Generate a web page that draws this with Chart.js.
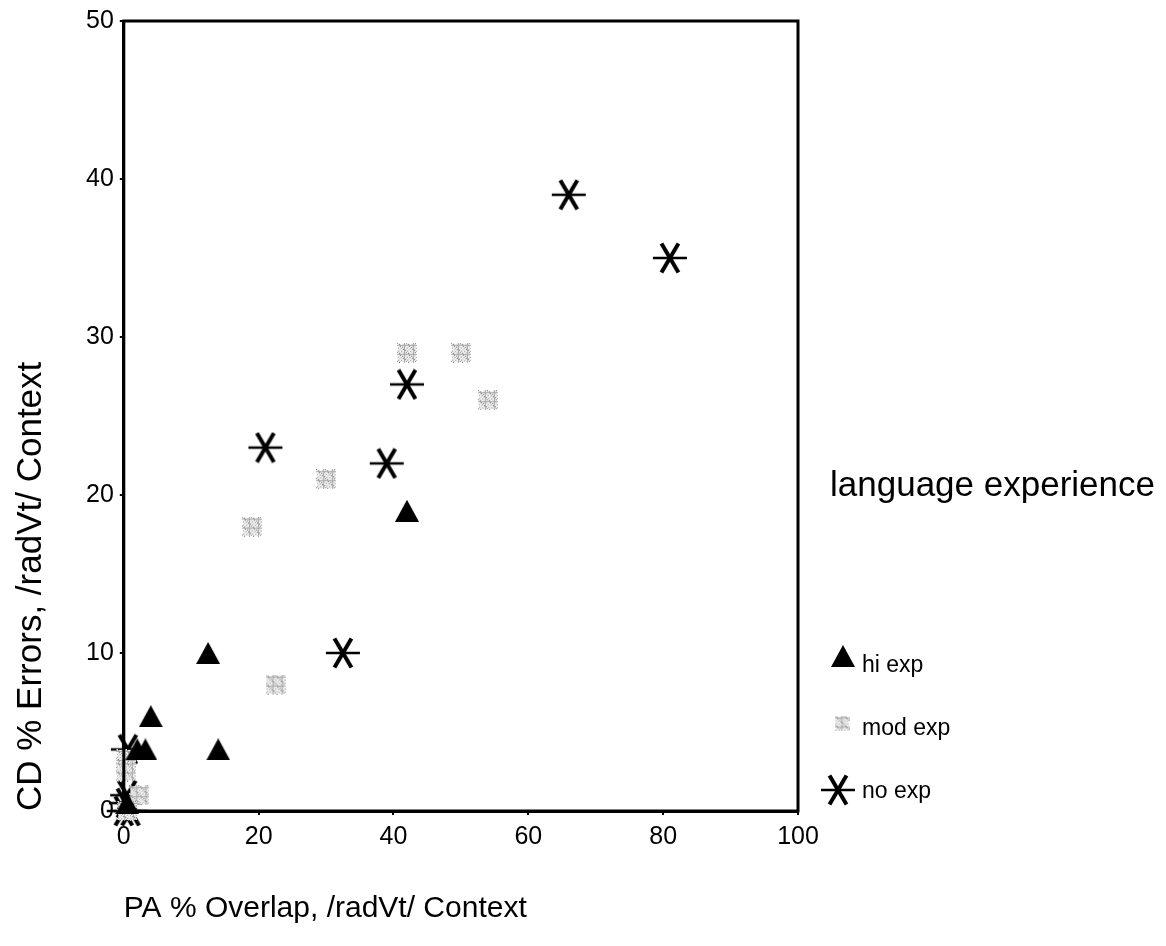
<!DOCTYPE html>
<html>
<head>
<meta charset="utf-8">
<script src="https://cdn.jsdelivr.net/npm/chart.js@4.4.1/dist/chart.umd.min.js"></script>
<style>
  html, body { margin: 0; padding: 0; background: #ffffff; }
  #wrap { width: 1166px; height: 946px; }
</style>
</head>
<body>
<div id="wrap"><canvas id="c" width="1166" height="946"></canvas></div>
<script>
// ---- data ----
const seriesNames = ["hi exp", "mod exp", "no exp"];
const hiX  = [42, 12.5, 4, 14, 2, 3.2, 0.5];
const hiY  = [19, 10, 6, 3.9, 3.9, 3.9, 0.5];
const modX = [42, 50, 54, 30, 19, 22.5, 0.3, 0.3, 2.3, 0.5];
const modY = [29, 29, 26, 21, 18, 8, 3.3, 2.5, 1, 0];
const noX  = [66, 81, 42, 21, 39, 32.5, 0.6, 0, 1, 0.5, 0.3];
const noY  = [39, 35, 27, 23, 22, 10, 3.9, 0, 0, 1, 0.5];
const xTicks = [0, 20, 40, 60, 80, 100];
const yTicks = [0, 10, 20, 30, 40, 50];
const xTitle = "PA % Overlap, /radVt/ Context";
const yTitle = "CD % Errors, /radVt/ Context";
const legendTitle = "language experience";

function pts(xs, ys) { return xs.map((x, i) => ({ x: x, y: ys[i] })); }

// ---- marker images ----
function triangleImg() {
  const c = document.createElement('canvas'); c.width = 24; c.height = 22;
  const g = c.getContext('2d');
  g.fillStyle = '#000';
  g.beginPath(); g.moveTo(12, 0); g.lineTo(24, 22); g.lineTo(0, 22); g.closePath(); g.fill();
  return c;
}
function speckleImg(n) {
  const c = document.createElement('canvas'); c.width = n; c.height = n;
  const g = c.getContext('2d');
  g.fillStyle = '#e2e2e2'; g.fillRect(1, 1, n - 2, n - 2);
  for (let i = 0; i < n; i++) {
    for (let j = 0; j < n; j++) {
      const k = (i * 7 + j * 11 + i * j) % 9;
      if (k === 0) { g.fillStyle = '#858585'; g.fillRect(i, j, 1, 1); }
      else if (k === 4) { g.fillStyle = '#aaaaaa'; g.fillRect(i, j, 1, 1); }
      else if (k === 7) { g.fillStyle = '#ffffff'; g.fillRect(i, j, 1, 1); }
    }
  }
  return c;
}
function asteriskImg() {
  const c = document.createElement('canvas'); c.width = 36; c.height = 32;
  const g = c.getContext('2d');
  g.strokeStyle = '#000'; g.lineCap = 'butt';
  g.lineWidth = 2.6;
  g.beginPath(); g.moveTo(1, 16); g.lineTo(35, 16); g.stroke();
  g.lineWidth = 4;
  g.beginPath(); g.moveTo(9.5, 1.5); g.lineTo(26.5, 30.5); g.stroke();
  g.beginPath(); g.moveTo(26.5, 1.5); g.lineTo(9.5, 30.5); g.stroke();
  return c;
}
const triImg = triangleImg(), modImg = speckleImg(20), modLegImg = speckleImg(15), astImg = asteriskImg();

const FONT = "'Liberation Sans', Arial, Helvetica, sans-serif";

const boxPlugin = {
  id: 'box',
  afterDatasetsDraw(chart) {
    const a = chart.chartArea, g = chart.ctx;
    g.save();
    g.strokeStyle = '#000'; g.lineWidth = 3;
    g.strokeRect(a.left, a.top, a.right - a.left, a.bottom - a.top);
    g.restore();
  }
};

// legend drawn to the right of the plot, using the datasets' labels and point styles
const legendPlugin = {
  id: 'sideLegend',
  afterDraw(chart) {
    const g = chart.ctx, a = chart.chartArea;
    const x0 = a.right + 32;
    g.save();
    g.fillStyle = '#000';
    g.textBaseline = 'middle';
    g.textAlign = 'left';
    g.font = "35px " + FONT;
    g.fillText(legendTitle, x0, a.bottom - 325);
    const imgs = [triImg, modLegImg, astImg];
    const markerDx = [13, 12, 8];
    const markerDy = [-10, -6, -2];
    g.font = "23px " + FONT;
    chart.data.datasets.forEach((ds, i) => {
      const yc = a.bottom - 145 + i * 63;
      const im = imgs[i];
      g.drawImage(im, x0 + markerDx[i] - im.width / 2, yc + markerDy[i] - im.height / 2);
      g.fillText(ds.label, x0 + 32, yc);
    });
    g.restore();
  }
};

new Chart(document.getElementById('c'), {
  type: 'scatter',
  data: {
    datasets: [
      { label: seriesNames[0], data: pts(hiX, hiY), pointStyle: triImg, clip: false },
      { label: seriesNames[1], data: pts(modX, modY), pointStyle: modImg, clip: false },
      { label: seriesNames[2], data: pts(noX, noY), pointStyle: astImg, clip: false }
    ]
  },
  options: {
    responsive: false,
    animation: false,
    layout: { padding: { left: 10, top: 16, right: 368, bottom: 19 } },
    scales: {
      x: {
        type: 'linear', min: 0, max: 100,
        afterBuildTicks: (s) => { s.ticks = xTicks.map(v => ({ value: v })); },
        ticks: { color: '#000', font: { family: FONT, size: 25 }, padding: 7 },
        grid: { display: true, drawOnChartArea: false, drawTicks: true, tickLength: 4, color: '#000', lineWidth: 2 },
        border: { display: true, color: '#000', width: 3 },
        title: { display: true, text: xTitle, align: 'start', color: '#000',
                 font: { family: FONT, size: 30 }, padding: { top: 32, bottom: 0 } }
      },
      y: {
        type: 'linear', min: 0, max: 50,
        afterBuildTicks: (s) => { s.ticks = yTicks.map(v => ({ value: v })); },
        ticks: { color: '#000', font: { family: FONT, size: 25 }, padding: 6 },
        grid: { display: true, drawOnChartArea: false, drawTicks: true, tickLength: 4, color: '#000', lineWidth: 2 },
        border: { display: true, color: '#000', width: 3 },
        title: { display: true, text: yTitle, align: 'start', color: '#000',
                 font: { family: FONT, size: 35 }, padding: { top: 0, bottom: 28 } }
      }
    },
    plugins: {
      legend: { display: false },
      tooltip: { enabled: false }
    }
  },
  plugins: [boxPlugin, legendPlugin]
});
</script>
</body>
</html>
